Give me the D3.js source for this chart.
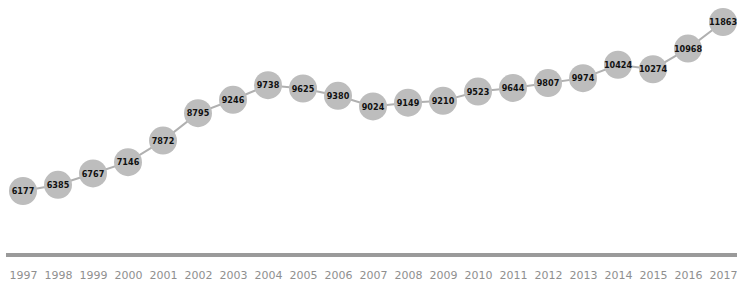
<!DOCTYPE html>
<html><head><meta charset="utf-8">
<script src="https://cdn.jsdelivr.net/npm/d3@7"></script>
<style>body{margin:0;background:#fff}svg{display:block}</style>
</head><body>
<script>
const years = ["1997","1998","1999","2000","2001","2002","2003","2004","2005","2006","2007","2008","2009","2010","2011","2012","2013","2014","2015","2016","2017"];
const values = [6177,6385,6767,7146,7872,8795,9246,9738,9625,9380,9024,9149,9210,9523,9644,9807,9974,10424,10274,10968,11863];

const W = 737, H = 282;
const svg = d3.select("body").append("svg").attr("width", W).attr("height", H);
const x = d3.scalePoint().domain(years).range([23, 723]);
const y = d3.scaleLinear().domain([6177, 11863]).range([191, 22]);

svg.append("line").attr("x1", 6).attr("x2", W).attr("y1", 255).attr("y2", 255)
  .attr("stroke", "#9a9a9a").attr("stroke-width", 4);

const axis = d3.axisBottom(x).tickSize(0).tickPadding(0);
const gAx = svg.append("g").attr("transform", "translate(0,271)").call(axis);
gAx.select(".domain").remove();
gAx.selectAll("text").attr("font-family", "DejaVu Sans, sans-serif")
  .attr("font-size", 11).attr("fill", "#8f8f8f");

const pts = years.map((yr, i) => [x(yr), y(values[i])]);
svg.append("path").attr("d", d3.line()(pts)).attr("fill", "none")
  .attr("stroke", "#b0b0b0").attr("stroke-width", 2);

const g = svg.selectAll("g.pt").data(years).enter().append("g").attr("class", "pt")
  .attr("transform", (d, i) => `translate(${x(d)},${y(values[i])})`);
g.append("circle").attr("r", 14).attr("fill", "#bdbdbd");
g.append("text").text((d, i) => values[i]).attr("text-anchor", "middle").attr("dy", "0.35em")
  .attr("font-family", "DejaVu Sans Condensed, sans-serif").attr("font-weight", "bold")
  .attr("font-size", 9).attr("fill", "#111");
</script>
</body></html>
